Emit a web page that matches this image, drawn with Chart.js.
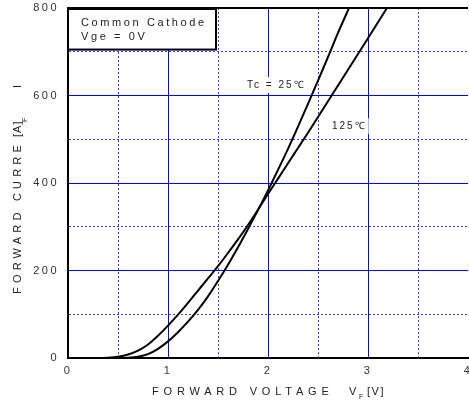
<!DOCTYPE html>
<html>
<head>
<meta charset="utf-8">
<script src="https://cdn.jsdelivr.net/npm/chart.js@4.4.0/dist/chart.umd.min.js"></script>
<style>
  html, body { margin: 0; padding: 0; background: #fff; }
</style>
</head>
<body>
<canvas id="ivChart" width="469" height="408"></canvas>
<script>
// Forward voltage [V] vs forward current [A]
const vf25  = [0, 0.5, 0.6, 0.7, 0.8, 0.9, 1.0, 1.1, 1.2, 1.3, 1.4, 1.5, 1.6, 1.7, 1.8, 1.9, 2.0, 2.1, 2.2, 2.3, 2.4, 2.5, 2.6, 2.7, 2.81];
const if25  = [0, 0, 0.5, 3, 9, 21, 38, 59, 83, 110, 141, 176, 213, 253, 295, 338, 383, 430, 478, 529, 581, 634, 688, 743, 800];
const vf125 = [0, 0.3, 0.4, 0.5, 0.6, 0.7, 0.8, 0.9, 1.0, 1.1, 1.2, 1.3, 1.4, 1.5, 1.6, 1.7, 1.8, 1.9, 2.0, 2.1, 2.2, 2.3, 2.4, 2.6, 2.8, 3.0, 3.19];
const if125 = [0, 0, 0.8, 3, 8, 17, 31, 51, 74, 99, 126, 154, 182, 210, 240, 271, 304, 339, 375, 410, 445, 480, 515, 587, 659, 731, 800];

const xMajor = [0, 1, 2, 3, 4];
const yMajor = [0, 200, 400, 600, 800];

const curveLabels = [
    { text: 'Tc = 25\u2103', x: 1.79, y: 624 },
    { text: '125\u2103', x: 2.64, y: 530 }
];

const FONT = '"Liberation Sans", Arial, sans-serif';
const BLUE = '#0000ff';
const BLUE_DOT = '#3c3cff';
const TEXT = '#222';

const toPoints = (xs, ys) => xs.map((x, i) => ({ x: x, y: ys[i] }));

function isMajor(list, v) {
    return list.some(m => Math.abs(m - v) < 1e-6);
}

// spaced-out letters like the datasheet
const letterSpacing = {
    id: 'letterSpacing',
    beforeLayout(chart) { chart.ctx.letterSpacing = '2.5px'; },
    beforeDraw(chart) { chart.ctx.letterSpacing = '2.5px'; }
};

const annotations = {
    id: 'annotations',
    afterDatasetsDraw(chart) {
        const { ctx, scales: { x, y } } = chart;
        ctx.save();

        // Common Cathode box
        const bx0 = x.getPixelForValue(0), bx1 = x.getPixelForValue(1.48);
        const by0 = y.getPixelForValue(800), by1 = y.getPixelForValue(705);
        ctx.fillStyle = '#fff';
        ctx.fillRect(bx0, by0, bx1 - bx0, by1 - by0);
        ctx.strokeStyle = '#000';
        ctx.lineWidth = 2;
        ctx.strokeRect(bx0, by0 + 1, bx1 - bx0, by1 - by0 - 1);
        ctx.fillStyle = TEXT;
        ctx.font = '11px ' + FONT;
        ctx.letterSpacing = '2.6px';
        ctx.textBaseline = 'middle';
        ctx.textAlign = 'left';
        ctx.fillText('Common Cathode', bx0 + 13, by0 + 15);
        ctx.fillText('Vge = 0V', bx0 + 13, by0 + 29);

        // curve labels
        ctx.font = '10px ' + FONT;
        ctx.letterSpacing = '2px';
        curveLabels.forEach(l => {
            const px = x.getPixelForValue(l.x), py = y.getPixelForValue(l.y);
            const w = ctx.measureText(l.text).width;
            ctx.fillStyle = '#fff';
            ctx.fillRect(px - 2, py - 8, w + 4, 16);
            ctx.fillStyle = TEXT;
            ctx.fillText(l.text, px, py);
        });
        ctx.restore();
    },
    afterDraw(chart) {
        const { ctx } = chart;
        ctx.save();
        ctx.fillStyle = TEXT;
        ctx.textBaseline = 'middle';
        ctx.textAlign = 'left';

        // x axis title
        const xy = 392;
        ctx.font = '11px ' + FONT;
        ctx.letterSpacing = '4.8px';
        ctx.fillText('FORWARD VOLTAGE', 152, xy);
        ctx.fillText('V', 349, xy);
        ctx.letterSpacing = '1.5px';
        ctx.fillText('[V]', 367, xy);
        ctx.font = '7px ' + FONT;
        ctx.letterSpacing = '0px';
        ctx.fillText('F', 359, xy + 5);

        // y axis title
        ctx.translate(18, 294);
        ctx.rotate(-Math.PI / 2);
        ctx.font = '11px ' + FONT;
        ctx.letterSpacing = '4.2px';
        ctx.fillText('FORWARD CURRE', 0, 0);
        ctx.letterSpacing = '1px';
        ctx.fillText('[A]', 157, 0);
        ctx.fillText('I', 206, 0);
        ctx.font = '7px ' + FONT;
        ctx.letterSpacing = '0px';
        ctx.fillText('F', 172, 7);
        ctx.restore();
    }
};

const lineStyle = {
    borderColor: '#000',
    borderWidth: 2,
    pointRadius: 0,
    showLine: true,
    fill: false,
    cubicInterpolationMode: 'monotone'
};

new Chart(document.getElementById('ivChart'), {
    type: 'scatter',
    data: {
        datasets: [
            Object.assign({ label: 'Tc = 25\u2103', data: toPoints(vf25, if25) }, lineStyle),
            Object.assign({ label: '125\u2103', data: toPoints(vf125, if125) }, lineStyle)
        ]
    },
    options: {
        responsive: false,
        animation: false,
        layout: { padding: { top: 8, right: 1, left: 0, bottom: 0 } },
        plugins: {
            legend: { display: false },
            tooltip: { enabled: false }
        },
        scales: {
            x: {
                type: 'linear',
                min: 0,
                max: 4,
                afterFit(scale) {
                    scale.height = 50;
                    scale.paddingLeft = 0;
                    scale.paddingRight = 0;
                },
                ticks: {
                    stepSize: 0.5,
                    autoSkip: false,
                    maxRotation: 0,
                    padding: 6,
                    color: '#333',
                    font: { family: FONT, size: 11 },
                    callback: v => isMajor(xMajor, v) ? String(v) : ''
                },
                grid: {
                    drawTicks: false,
                    lineWidth: 1,
                    color: c => {
                        const v = c.tick ? c.tick.value : null;
                        if (v === 4) return 'rgba(0,0,0,0)';
                        return isMajor(xMajor, v) ? BLUE : BLUE_DOT;
                    }
                },
                border: {
                    color: '#000',
                    width: 2,
                    dash: c => (c.tick && !isMajor(xMajor, c.tick.value)) ? [2, 2] : []
                }
            },
            y: {
                type: 'linear',
                min: 0,
                max: 800,
                afterFit(scale) {
                    scale.width = 68;
                    scale.paddingTop = 0;
                    scale.paddingBottom = 0;
                },
                ticks: {
                    stepSize: 100,
                    autoSkip: false,
                    padding: 9,
                    color: '#333',
                    font: { family: FONT, size: 11 },
                    callback: v => isMajor(yMajor, v) ? String(v) : ''
                },
                grid: {
                    drawTicks: false,
                    lineWidth: c => (c.tick && c.tick.value === 800) ? 2 : 1,
                    color: c => {
                        const v = c.tick ? c.tick.value : null;
                        if (v === 800) return '#000';
                        return isMajor(yMajor, v) ? BLUE : BLUE_DOT;
                    }
                },
                border: {
                    color: '#000',
                    width: 2,
                    dash: c => (c.tick && !isMajor(yMajor, c.tick.value)) ? [2, 2] : []
                }
            }
        }
    },
    plugins: [letterSpacing, annotations]
});
</script>
</body>
</html>
